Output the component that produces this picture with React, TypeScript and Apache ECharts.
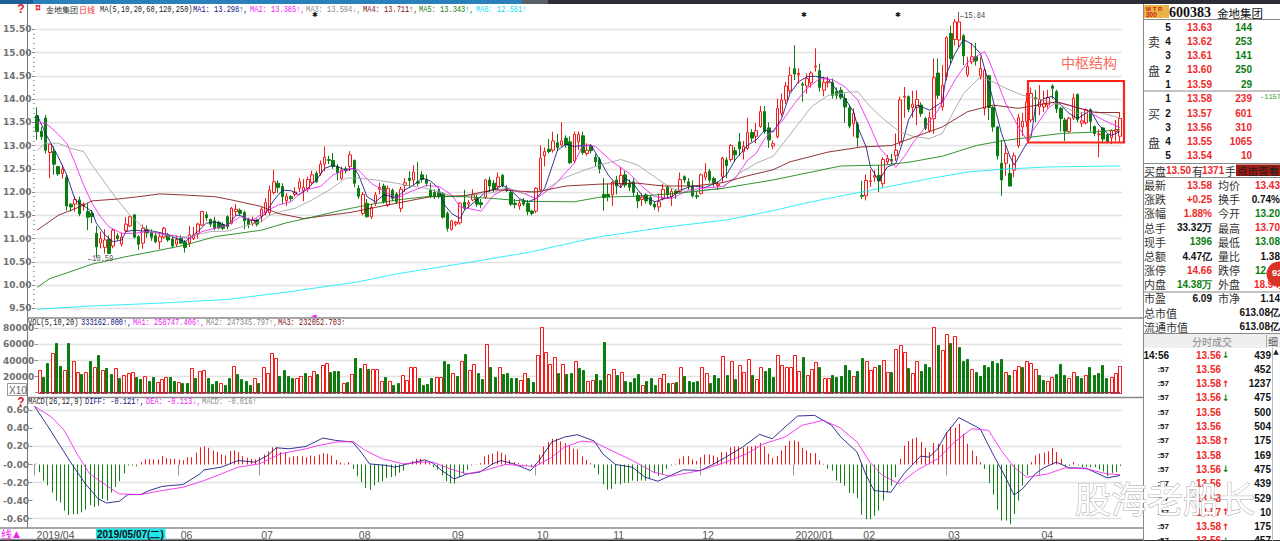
import React, { useEffect, useRef } from "react";
import * as echarts from "echarts";

const CJK = '"Noto Sans CJK SC"';
const NUM = '"Liberation Sans"';
const MONO = '"Liberation Mono"';
const RED = "#f02828";
const GREEN = "#0a7c10";

// candles: [open, close, low, high]
const candlesA: number[][] = [
  [13.64,13.30,13.12,13.82],[13.31,13.19,13.12,13.40],[13.59,12.90,12.83,13.66],[12.85,13.03,12.30,13.04],[12.87,12.60,12.37,12.98],[12.55,12.39,12.35,12.55],[12.40,12.49,12.29,12.57],[12.31,11.70,11.60,12.37],[11.74,11.68,11.58,11.76],[11.74,11.84,11.58,11.90],
  [11.83,11.53,11.48,11.90],[11.70,11.74,11.60,11.78],[11.58,11.46,11.18,11.76],[11.54,11.47,11.33,11.61],[11.11,10.82,10.59,11.27],[10.90,11.00,10.79,11.15],[10.81,10.97,10.68,11.20],[10.98,10.68,10.67,11.07],[10.84,11.18,10.79,11.22],[11.06,11.00,10.96,11.12],
  [10.88,11.03,10.83,11.13],[11.17,11.31,11.14,11.46],[11.27,11.47,11.25,11.49],[11.51,11.03,11.00,11.51],[11.04,10.88,10.76,11.08],[10.90,11.22,10.78,11.30],[11.20,11.12,11.02,11.28],[11.13,11.03,10.95,11.20],[11.06,10.93,10.90,11.12],[10.93,11.04,10.77,11.14],
  [11.03,11.22,11.00,11.25],[11.08,10.97,10.93,11.12],[10.99,10.84,10.79,11.08],[10.88,10.98,10.82,11.07],[11.00,10.90,10.88,11.07],[10.92,10.81,10.70,10.97],[10.90,11.08,10.82,11.27],[11.00,11.08,10.97,11.25],[11.11,11.31,11.00,11.34],[11.29,11.58,11.27,11.60],
  [11.51,11.45,11.38,11.58],[11.41,11.31,11.25,11.43],[11.38,11.22,11.18,11.47],[11.35,11.23,11.20,11.38],[11.30,11.22,11.18,11.35],[11.47,11.26,11.20,11.50],[11.33,11.65,11.30,11.68],[11.58,11.63,11.50,11.74],[11.61,11.54,11.50,11.65],[11.56,11.38,11.20,11.60],
  [11.40,11.30,11.22,11.45],[11.33,11.40,11.27,11.47],[11.40,11.31,11.26,11.43],[11.48,11.63,11.35,11.68],[11.55,11.77,11.50,11.87],[11.56,12.04,11.50,12.14],[11.99,12.22,11.95,12.48],[12.19,12.10,11.98,12.25],[12.12,11.90,11.74,12.19],[11.81,11.91,11.70,11.98],
  [11.90,11.86,11.80,11.93],[11.95,12.00,11.90,12.10],[12.08,12.22,12.00,12.30],[12.03,12.10,11.80,12.28],[12.08,12.27,12.00,12.33],[12.21,12.37,12.15,12.46],[12.40,12.22,12.20,12.45],[12.40,12.60,12.35,12.68],[12.60,12.75,12.45,12.98],[12.70,12.68,12.60,12.78],
  [12.68,12.55,12.50,12.84],[12.55,12.42,12.25,12.60],[12.29,12.46,12.26,12.55],[12.50,12.46,12.40,12.55],[12.55,12.80,12.45,12.88],[12.68,12.19,12.10,12.70],[12.08,11.91,11.85,12.15],[11.54,11.95,11.50,12.00],[11.76,11.47,11.45,11.85],[11.47,11.67,11.42,11.75],
  [11.76,11.94,11.70,12.00],[12.06,12.10,11.95,12.20],[12.13,11.79,11.75,12.18],[11.72,12.08,11.68,12.14],[12.04,11.86,11.80,12.08],[11.96,11.79,11.75,12.00],[11.65,12.06,11.57,12.12],
];
const candlesB: number[][] = [
  [12.14,12.20,12.00,12.30],[12.30,12.25,12.10,12.45],[12.26,12.43,12.14,12.58],[12.22,12.19,12.13,12.65],[12.37,12.27,12.20,12.45],[12.27,12.19,12.12,12.37],[12.04,11.91,11.87,12.20],
  [11.99,11.90,11.85,12.06],[11.99,11.90,11.86,12.07],[11.97,11.46,11.43,12.00],[11.54,11.22,11.15,11.58],[11.20,11.38,11.17,11.40],[11.31,11.35,11.26,11.38],[11.34,11.76,11.30,11.78],[11.78,11.65,11.61,12.05],[11.74,11.77,11.65,11.83],[11.83,11.94,11.80,12.06],
  [11.86,11.74,11.68,11.95],[11.77,11.73,11.65,11.85],[11.89,12.26,11.85,12.28],[12.26,12.13,12.00,12.33],[12.19,12.06,12.00,12.26],[12.12,12.32,12.05,12.42],[12.36,12.13,12.10,12.39],[12.10,12.04,12.00,12.15],[11.99,11.74,11.70,12.03],[11.76,11.73,11.65,11.85],
  [11.70,11.76,11.62,11.84],[11.81,11.74,11.70,11.87],[11.76,11.58,11.50,11.83],[11.59,11.54,11.50,11.62],[11.59,12.08,11.55,12.10],[12.05,12.73,12.00,13.00],[12.78,12.87,12.55,12.96],[12.92,12.87,12.83,13.14],[12.90,13.10,12.85,13.30],[13.06,12.96,12.88,13.25],
  [13.01,13.10,12.98,13.50],[13.16,13.01,12.95,13.22],[13.08,12.63,12.60,13.20],[12.67,13.24,12.62,13.30],[13.08,13.24,12.90,13.30],[13.21,12.85,12.80,13.30],[12.83,12.90,12.78,13.05],[12.99,12.89,12.83,13.03],[12.75,12.65,12.55,12.82],[12.70,12.50,12.40,12.75],
  [11.95,11.88,11.60,12.30],[11.95,11.90,11.80,12.18],[11.94,12.21,11.70,12.25],[12.26,12.13,11.95,12.35],[12.17,12.36,12.10,12.54],[12.37,12.15,12.10,12.45],[12.19,12.10,12.02,12.27],[12.22,11.99,11.90,12.30],[11.93,11.81,11.65,12.00],[11.84,11.89,11.70,11.97],
  [11.94,11.81,11.75,11.97],[11.89,11.74,11.70,11.93],[11.74,11.68,11.62,11.80],[11.68,11.79,11.58,11.97],[11.86,12.06,11.82,12.18],[12.10,11.94,11.85,12.13],[11.90,12.01,11.70,12.08],[12.02,11.97,11.85,12.05],[12.01,12.27,11.98,12.42],[12.33,12.26,12.20,12.36],
  [12.22,12.13,12.05,12.30],[12.13,11.92,11.88,12.25],[11.92,11.90,11.85,12.02],[11.97,12.37,11.95,12.40],[12.32,12.42,12.25,12.62],[12.45,12.26,12.20,12.50],[12.29,12.20,12.12,12.33],[12.14,12.17,12.05,12.22],[12.33,12.73,12.20,12.76],[12.69,12.57,12.30,12.75],
  [12.70,13.00,12.65,13.03],[12.89,12.80,12.65,12.97],[13.08,12.93,12.78,13.27],[12.87,12.98,12.70,13.10],[12.94,13.28,12.90,13.60],[13.28,13.16,13.08,13.35],[13.20,13.32,13.05,13.48],[13.41,13.73,13.38,13.85],[13.73,13.30,13.25,13.85],[13.38,13.12,12.95,13.50],
];
const candlesC: number[][] = [
  [12.99,13.04,12.92,13.11],[13.19,13.80,13.15,14.01],[13.69,13.98,13.63,14.12],[13.98,14.28,13.89,14.37],[14.18,14.51,14.12,14.69],[14.65,14.54,14.41,15.16],
  [14.52,14.55,14.33,14.66],[14.32,14.30,13.94,14.37],[14.28,14.44,14.12,14.55],[14.35,14.56,14.25,14.60],[14.69,14.71,14.59,15.09],[14.61,14.25,14.16,14.76],[14.19,14.36,14.06,14.48],[14.35,14.38,14.25,14.48],[14.36,14.08,14.01,14.44],[14.16,14.08,14.00,14.25],
  [14.19,14.03,13.99,14.26],[14.01,13.83,13.49,14.12],[13.81,13.42,13.37,13.87],[13.47,13.69,13.19,13.80],[13.46,13.17,12.97,13.51],[11.93,11.91,11.85,12.24],[11.92,12.25,11.82,12.38],[12.23,12.24,12.11,12.48],[12.32,12.35,12.22,12.47],[12.36,12.24,12.00,12.58],
  [12.18,12.70,12.10,12.75],[12.65,12.72,12.60,12.80],[12.70,12.67,12.60,12.82],[12.79,12.90,12.67,13.26],[13.08,13.98,13.00,14.05],[14.04,14.06,13.60,14.26],[14.05,13.78,13.72,14.08],[13.82,13.89,13.60,14.18],[13.82,13.99,13.44,14.19],[13.87,13.69,13.62,13.93],
  [13.58,13.37,13.33,13.62],[13.32,13.60,13.28,13.73],[13.58,14.46,13.25,14.87],[14.56,14.08,14.00,14.87],[13.83,14.30,13.75,14.73],[14.48,15.32,14.40,15.35],[15.41,14.87,14.75,15.58],[15.28,15.66,15.15,15.72],[15.27,15.66,15.12,15.84],[15.36,14.93,14.73,15.40],
  [14.52,14.70,14.47,14.91],[14.80,14.91,14.75,15.20],[14.91,14.82,14.72,15.21],[14.50,14.66,14.42,14.90],[13.80,14.62,13.65,14.66],[14.50,13.82,13.55,14.52],[13.82,13.40,13.30,13.85],[13.40,12.78,12.70,13.42],[12.62,12.26,11.92,13.12],[12.62,12.83,12.35,13.00],
  [12.40,12.13,12.12,12.60],[12.47,12.78,12.32,12.85],[13.00,13.60,12.95,13.68],[13.40,13.52,13.20,13.70],[13.51,13.94,13.40,14.13],[13.55,14.12,13.50,14.25],[14.03,14.00,13.50,14.20],[13.83,13.99,13.65,14.30],[13.83,13.91,13.72,14.18],[13.87,14.03,13.80,14.20],
  [14.28,14.23,14.00,14.32],[14.16,13.79,13.70,14.20],[13.80,13.58,13.30,13.83],[13.55,13.31,13.10,13.60],[13.30,13.59,13.28,13.62],[13.59,14.02,13.55,14.12],[14.10,13.56,13.50,14.12],[13.48,13.53,13.40,13.72],[13.49,13.77,13.45,13.80],[13.77,13.52,13.30,13.80],
  [13.41,13.26,13.20,13.43],[13.23,13.25,12.75,13.35],[13.38,13.14,13.08,13.40],[13.23,13.08,13.05,13.25],[13.17,13.32,13.03,13.35],[13.30,13.34,13.10,13.55],[13.20,13.58,13.08,13.70],
];

// volume in thousands of shares: positive = red (hollow) bar, negative = green bar
const volumes = [
  283,-200,-367,492,-617,-333,283,-617,388,254,
  -233,254,-388,325,-467,283,-304,-229,304,-179,
  221,242,254,-200,-171,208,-146,-200,138,167,
  200,-200,-150,129,-125,-121,304,-187,271,283,
  -179,-108,-146,125,-96,-187,333,-229,-167,-150,
  -96,187,-117,317,242,492,429,-212,-283,-212,
  -187,179,212,-242,212,275,-229,346,367,-262,
  -271,-271,125,-138,229,-429,-304,358,-296,296,
  292,146,-200,150,-96,-125,221,158,317,317,
  -187,-92,-108,-179,192,192,-396,-358,250,-208,
  396,-483,283,358,-250,-171,608,-325,-200,317,
  -233,-250,-183,-179,158,242,-179,-138,467,817,
  508,354,442,-250,358,-229,-250,388,-304,-283,
  150,158,-233,-158,-629,229,292,-221,254,-150,
  -138,-179,-233,96,-146,-187,-92,179,229,-117,
  125,-138,317,-208,-150,-129,-150,317,242,-125,
  -221,-183,450,-221,392,-175,338,262,417,-221,
  167,325,-275,-304,-200,467,342,317,325,467,
  275,-446,221,292,379,-325,179,179,-225,-200,
  -208,-346,-283,208,-271,-429,388,283,325,-346,
  408,262,-254,546,596,504,-304,242,400,-271,
  -354,-325,817,-588,533,733,-617,708,-567,-400,
  -417,292,-258,-212,-346,-317,-400,-375,-417,262,
  -221,283,337,-325,388,375,292,-221,-158,150,
  200,-233,-358,-221,179,254,-212,-187,221,-321,
  -221,-242,-346,-183,192,242,333,
];

const macdHist = [
  0.01,-0.085,-0.18,-0.23,-0.31,-0.40,-0.42,-0.51,-0.56,-0.55,
  -0.55,-0.53,-0.50,-0.45,-0.47,-0.455,-0.38,-0.40,-0.31,-0.25,
  -0.185,-0.096,-0.011,-0.011,-0.02,0.026,0.056,0.06,0.056,0.056,
  0.093,0.07,0.063,0.063,0.056,0.048,0.08,0.08,0.13,0.19,
  0.20,0.185,0.155,0.14,0.11,0.10,0.15,0.155,0.137,0.093,
  0.074,0.063,0.056,0.08,0.11,0.145,0.19,0.19,0.137,0.13,
  0.08,0.093,0.093,0.09,0.08,0.10,0.09,0.11,0.126,0.12,
  0.10,0.05,0.02,0.01,0.025,-0.05,-0.13,-0.196,-0.26,-0.28,
  -0.23,-0.196,-0.185,-0.15,-0.14,-0.126,-0.09,-0.067,0.003,0.037,
  0.063,0.063,0.044,0.02,-0.03,-0.055,-0.12,-0.185,-0.21,-0.21,
  -0.14,-0.10,-0.06,-0.01,0.005,0.015,0.09,0.11,0.12,0.145,
  0.13,0.107,0.05,0.026,0.015,0.007,-0.015,-0.03,0.007,0.11,
  0.20,0.25,0.285,0.285,0.255,0.237,0.21,0.174,0.17,0.09,
  0.05,0.015,-0.037,-0.11,-0.22,-0.278,-0.27,-0.215,-0.222,-0.204,
  -0.204,-0.178,-0.185,-0.178,-0.178,-0.16,-0.096,-0.126,-0.104,-0.048,
  -0.011,0.007,0.063,0.09,0.093,0.055,0.037,0.08,0.11,0.11,
  0.10,0.08,0.137,0.137,0.19,0.20,0.20,0.185,0.20,0.20,
  0.21,0.237,0.20,0.12,0.07,0.093,0.155,0.21,0.26,0.267,
  0.255,0.185,0.155,0.126,0.126,0.044,0.007,-0.048,-0.067,-0.178,
  -0.204,-0.233,-0.315,-0.32,-0.374,-0.556,-0.607,-0.607,-0.567,-0.51,
  -0.40,-0.307,-0.233,-0.14,0.063,0.21,0.26,0.285,0.30,0.25,
  0.185,0.137,0.237,0.23,0.22,0.36,0.415,0.407,0.45,0.34,
  0.23,0.155,0.093,0.026,-0.048,-0.207,-0.333,-0.50,-0.62,-0.62,
  -0.66,-0.548,-0.40,-0.233,-0.12,0.026,0.10,0.12,0.13,0.145,
  0.18,0.137,0.063,-0.018,-0.011,0.026,-0.011,-0.03,-0.022,-0.03,
  -0.03,-0.055,-0.078,-0.13,-0.093,-0.085,-0.016,
];

// moving averages: [bar index, value], read at the turning points of each line
const ma1 = [[0,13.66],[2,13.26],[5,12.76],[7,12.37],[9,11.83],[13,11.58],[14,11.33],[16,11.08],[18,10.93],[20,10.97],[21,11.15],[23,11.18],[25,11.16],[26,11.18],[29,11.13],[31,11.08],[33,11.0],[35,10.93],[37,11.08],[38,11.15],[40,11.33],[42,11.36],[45,11.27],[47,11.5],[48,11.5],[50,11.4],[52,11.38],[54,11.54],[56,11.83],[58,12.04],[60,12.03],[62,11.94],[64,12.08],[66,12.26],[68,12.51],[70,12.58],[73,12.47],[75,12.51],[76,12.37],[78,11.9],[80,11.79],[82,11.94],[85,11.88],[87,12.05],[89,12.15],[91,12.3],[93,12.24],[95,12.08],[96,11.76],[98,11.54],[100,11.43],[101,11.61],[104,11.83],[106,12.0],[109,12.08],[110,12.15],[112,12.04],[114,11.86],[116,11.79],[118,11.86],[120,12.08],[122,12.62],[123,12.9],[125,13.03],[127,12.98],[129,13.0],[131,13.01],[133,12.69],[135,12.37],[136,12.26],[138,12.09],[139,12.3],[141,12.17],[143,11.93],[146,11.79],[148,11.85],[150,11.9],[152,12.04],[155,12.13],[158,12.1],[161,12.22],[163,12.37],[165,12.69],[168,13.01],[170,13.12],[172,13.33],[174,13.29],[176,13.58],[178,14.12],[180,14.37],[182,14.48],[184,14.49],[187,14.44],[189,14.19],[191,14.01],[193,13.73],[194,13.4],[196,12.97],[197,12.54],[199,12.24],[201,12.54],[203,12.61],[205,13.19],[206,13.55],[208,13.87],[210,13.8],[211,13.76],[214,13.94],[215,14.55],[217,14.98],[219,15.28],[221,15.18],[223,14.98],[225,14.33],[228,13.26],[230,12.76],[231,12.58],[233,12.9],[235,13.19],[236,13.83],[238,14.01],[240,14.06],[242,13.87],[244,13.69],[246,13.58],[249,13.76],[251,13.44],[253,13.26],[254,13.22],[256,13.3]];
const ma2 = [[0,13.48],[2,13.48],[4,13.33],[7,13.05],[9,12.62],[11,12.15],[13,11.76],[15,11.47],[17,11.25],[20,11.11],[23,11.11],[26,11.15],[29,11.11],[33,11.05],[36,11.0],[39,11.15],[42,11.22],[45,11.29],[48,11.47],[51,11.4],[54,11.58],[57,11.72],[60,11.79],[63,12.04],[67,12.12],[70,12.37],[74,12.51],[76,12.47],[79,12.19],[81,12.08],[85,11.86],[88,12.0],[92,12.14],[95,12.12],[98,11.94],[100,11.68],[105,11.59],[108,11.94],[111,12.08],[115,11.97],[118,11.86],[122,12.12],[127,12.62],[129,13.01],[132,12.98],[136,12.65],[140,12.4],[143,12.12],[146,11.9],[150,11.86],[154,12.04],[157,12.08],[162,12.12],[165,12.29],[168,12.69],[170,12.83],[172,13.15],[174,13.33],[176,13.51],[179,13.9],[182,14.23],[185,14.44],[188,14.42],[191,14.26],[194,13.98],[197,13.4],[199,12.97],[202,12.65],[203,12.53],[205,12.76],[207,13.05],[210,13.4],[213,13.76],[217,14.41],[220,14.8],[224,15.02],[225,14.84],[229,13.9],[232,13.4],[234,13.12],[236,13.4],[239,13.8],[241,13.94],[244,13.87],[248,13.76],[252,13.55],[256,13.385]];
const ma3 = [[0,12.9],[2,13.05],[5,13.05],[8,12.94],[11,12.87],[13,12.58],[17,12.08],[19,11.83],[22,11.5],[25,11.25],[29,11.08],[33,11.03],[36,11.04],[41,11.15],[45,11.16],[49,11.27],[53,11.36],[55,11.5],[58,11.59],[61,11.65],[65,11.83],[69,12.04],[73,12.3],[76,12.3],[80,12.26],[85,12.19],[87,12.15],[92,12.08],[96,11.97],[99,11.9],[103,11.94],[108,11.99],[111,12.1],[115,11.97],[120,12.04],[124,12.28],[129,12.46],[133,12.58],[138,12.7],[142,12.58],[147,12.26],[150,12.08],[154,12.0],[158,12.04],[162,12.08],[166,12.4],[170,12.62],[174,12.77],[177,13.12],[180,13.47],[183,13.83],[187,14.08],[191,14.14],[194,14.16],[197,13.83],[200,13.58],[204,13.29],[207,13.2],[211,13.15],[214,13.26],[216,13.62],[219,14.12],[223,14.48],[226,14.37],[229,14.23],[233,14.08],[238,13.98],[242,13.87],[246,13.69],[250,13.74],[256,13.594]];
const ma4 = [[0,11.18],[5,11.5],[10,11.68],[13,11.81],[19,11.85],[24,11.9],[29,11.96],[34,11.94],[42,11.9],[46,11.83],[53,11.69],[57,11.54],[63,11.43],[68,11.49],[74,11.56],[80,11.67],[85,11.76],[93,11.9],[101,11.92],[108,12.05],[118,12.0],[125,12.13],[133,12.17],[142,12.19],[148,12.13],[155,12.13],[162,12.2],[168,12.35],[174,12.48],[178,12.65],[187,12.86],[195,12.97],[202,13.0],[207,13.17],[214,13.4],[220,13.73],[226,13.87],[232,13.8],[241,13.94],[250,13.71],[256,13.711]];
const ma5 = [[0,9.95],[3,10.14],[7,10.26],[13,10.45],[21,10.61],[29,10.75],[35,10.86],[42,11.04],[53,11.18],[59,11.34],[65,11.46],[72,11.61],[78,11.72],[85,11.83],[93,11.91],[101,11.9],[108,11.86],[116,11.8],[127,11.79],[133,11.89],[142,11.91],[151,11.97],[162,12.08],[168,12.17],[174,12.26],[183,12.43],[190,12.56],[200,12.58],[206,12.64],[214,12.77],[222,13.0],[228,13.1],[234,13.17],[242,13.26],[250,13.29],[256,13.343]];
const ma6 = [[0,9.48],[13,9.55],[29,9.61],[45,9.69],[60,9.86],[76,10.07],[85,10.24],[101,10.47],[116,10.7],[133,11.04],[149,11.25],[163,11.4],[174,11.6],[183,11.79],[197,12.04],[211,12.29],[220,12.43],[228,12.49],[239,12.54],[256,12.561]];

const volMa1 = [[0,450],[3,388],[7,471],[11,346],[15,346],[19,283],[23,242],[27,179],[31,179],[35,158],[39,221],[43,138],[48,179],[53,158],[56,325],[59,346],[63,221],[67,262],[71,262],[75,221],[79,333],[83,221],[87,158],[90,242],[94,179],[100,283],[105,304],[110,325],[115,262],[118,242],[120,408],[122,508],[125,346],[129,304],[133,221],[137,221],[143,179],[149,179],[155,179],[162,221],[166,262],[171,242],[176,304],[180,346],[185,325],[190,221],[195,317],[200,346],[203,317],[206,442],[210,317],[213,429],[216,638],[219,596],[222,429],[226,283],[230,346],[233,304],[237,325],[241,200],[245,242],[250,242],[256,259]];
const volMa2 = [[0,450],[6,429],[13,346],[19,304],[24,242],[30,179],[35,179],[42,179],[48,179],[53,167],[58,242],[64,271],[71,283],[76,242],[82,262],[87,221],[94,200],[102,325],[110,325],[118,200],[127,400],[133,242],[141,221],[149,158],[157,188],[165,242],[176,317],[183,346],[190,304],[198,325],[206,388],[213,450],[221,575],[225,429],[230,346],[237,304],[244,262],[256,247]];
const volMa3 = [[0,492],[6,429],[13,388],[20,325],[27,254],[34,212],[40,171],[46,179],[53,179],[60,221],[71,262],[82,271],[94,229],[106,275],[118,283],[127,304],[135,317],[141,254],[149,200],[157,179],[165,221],[176,292],[184,317],[190,292],[202,325],[211,388],[218,471],[223,450],[231,438],[237,346],[244,283],[256,232]];

const macdDiff = [[0,0.644],[3,0.433],[6,0.21],[9,-0.011],[12,-0.215],[15,-0.38],[17,-0.426],[20,-0.407],[22,-0.333],[25,-0.333],[27,-0.289],[30,-0.244],[32,-0.233],[35,-0.222],[39,-0.104],[40,-0.059],[44,-0.03],[48,0.044],[52,0.026],[55,0.10],[57,0.185],[60,0.174],[64,0.20],[68,0.293],[71,0.267],[75,0.248],[77,0.137],[79,0.007],[83,-0.011],[85,-0.03],[88,0.007],[92,0.052],[94,0.015],[96,-0.067],[99,-0.159],[102,-0.104],[105,-0.085],[108,0.007],[110,0.044],[113,0.007],[117,-0.067],[119,0.044],[122,0.248],[125,0.304],[128,0.33],[132,0.26],[134,0.119],[137,0.0],[141,-0.03],[144,-0.141],[147,-0.185],[150,-0.122],[153,-0.059],[157,-0.067],[160,0.0],[163,0.081],[167,0.193],[171,0.333],[174,0.285],[177,0.415],[180,0.537],[184,0.544],[188,0.433],[190,0.311],[194,0.137],[196,-0.104],[198,-0.289],[202,-0.307],[205,-0.104],[209,0.093],[211,0.081],[213,0.174],[215,0.341],[218,0.519],[223,0.396],[226,0.119],[229,-0.141],[231,-0.337],[233,-0.27],[236,-0.104],[238,-0.037],[241,0.026],[244,-0.037],[248,-0.041],[253,-0.148],[256,-0.121]];
const macdDea = [[0,0.644],[4,0.526],[7,0.378],[10,0.119],[13,-0.104],[17,-0.233],[20,-0.326],[25,-0.333],[30,-0.289],[35,-0.252],[40,-0.178],[44,-0.104],[48,-0.03],[53,0.007],[58,0.119],[64,0.174],[67,0.211],[71,0.248],[75,0.256],[78,0.156],[82,0.063],[87,0.007],[91,0.026],[94,0.026],[98,-0.048],[102,-0.104],[106,-0.067],[111,0.0],[118,-0.022],[122,0.081],[125,0.193],[129,0.259],[132,0.248],[136,0.156],[141,0.044],[146,-0.085],[150,-0.13],[157,-0.067],[163,0.026],[168,0.119],[172,0.23],[177,0.304],[181,0.433],[186,0.489],[190,0.407],[194,0.248],[197,0.026],[200,-0.122],[204,-0.215],[208,-0.067],[213,0.063],[217,0.248],[221,0.396],[225,0.378],[228,0.156],[231,-0.03],[234,-0.141],[239,-0.104],[243,-0.037],[248,-0.048],[253,-0.104],[256,-0.113]];

const monthTicks: [number, string][] = [[0,"2019/04"],[14,"05"],[34,"06"],[53,"07"],[76,"08"],[98,"09"],[118,"10"],[136,"11"],[157,"12"],[179,"2020/01"],[195,"02"],[215,"03"],[237,"04"]];

const sellBook: [string, string, string][] = [["5","13.63","144"],["4","13.62","253"],["3","13.61","141"],["2","13.60","250"],["1","13.59","29"]];
const buyBook: [string, string, string][] = [["1","13.58","239"],["2","13.57","601"],["3","13.56","310"],["4","13.55","1065"],["5","13.54","10"]];
const quoteRows: [string, string, string, string, string, string][] = [
  ["最新","13.58",RED,"均价","13.43",RED],
  ["涨跌","+0.25",RED,"换手","0.74%","#111"],
  ["涨幅","1.88%",RED,"今开","13.20",GREEN],
  ["总手","33.32万","#111","最高","13.70",RED],
  ["现手","1396",GREEN,"最低","13.08",GREEN],
  ["总额","4.47亿","#111","量比","1.38","#111"],
  ["涨停","14.66",RED,"跌停","12.00",GREEN],
  ["内盘","14.38万",GREEN,"外盘","18.94万",RED],
  ["市盈","6.09","#111","市净","1.14","#111"],
];
const tapeRows: [string, string, string, string][] = [
  ["14:56","13.56","↓","439"],[":57","13.56","","452"],[":57","13.58","↑","1237"],[":57","13.56","↓","475"],[":57","13.56","","500"],[":57","13.56","","504"],[":57","13.58","↑","175"],
  [":57","13.58","","169"],[":57","13.56","↓","475"],[":57","13.56","","439"],[":57","13.58","","529"],[":57","13.57","↑","10"],[":57","13.58","↑","175"],[":57","13.56","↓","457"],
];

function t(text: string, x: number, y: number, color: string, font: string, align = "left", scaleX = 1, z = 100): any {
  return { type: "text", x, y, scaleX, z, silent: true, style: { text, fill: color, font, align, verticalAlign: "middle" } };
}
function hl(x1: number, y1: number, x2: number, y2: number, color: string, w = 1, z = 90): any {
  return { type: "line", z, silent: true, shape: { x1, y1, x2, y2 }, style: { stroke: color, lineWidth: w } };
}
function box(x: number, y: number, width: number, height: number, fill: string, z = 80): any {
  return { type: "rect", z, silent: true, shape: { x, y, width, height }, style: { fill } };
}

function buildGraphics(): any[] {
  const g: any[] = [];
  const mono = `9px ${MONO}`;
  const sx = 0.78;
  g.push(box(0, 0, 33, 4, "#1e5f96"), box(33, 0, 489, 4, "#2a80bb"), box(522, 0, 26, 4, "#5a5f68"), box(548, 0, 732, 4, "#2c2d36"));
  g.push(hl(27.5, 4, 27.5, 528, "#777"), hl(27, 318, 1143, 318, "#888", 1.3), hl(27, 397.5, 1143, 397.5, "#888", 1.3), hl(0, 528, 1143, 528, "#888", 1.3), hl(0, 539.5, 1143, 539.5, "#888", 1.3), hl(0, 540.5, 1280, 540.5, "#333", 1));
  g.push(t("?", 21, 9, "#d81818", `bold 12px ${NUM}`, "center"), t("¤", 38, 7, RED, `bold 10px ${NUM}`, "center"));
  g.push(t("金地集团", 46, 9, "#333", `8px ${CJK}`), t("日线", 79, 9, RED, `8px ${CJK}`));
  g.push(t("MA(5,10,20,60,120,250)", 100, 9, "#222", mono, "left", sx));
  const maHead: [string, number, string][] = [["MA1: 13.298↑,", 193, "#101080"], ["MA2: 13.385↑,", 250, "#f020f0"], ["MA3: 13.594↓,", 306, "#888"], ["MA4: 13.711↑,", 363, "#801010"], ["MA5: 13.343↑,", 419, "#108010"], ["MA6: 12.561↑", 476, "#10e0f0"]];
  maHead.forEach(([s, x, c]) => g.push(t(s, x, 9, c, mono, "left", sx)));
  [315, 804, 898].forEach((x) => g.push(t("✱", x, 14.5, "#111", `bold 7px "DejaVu Sans"`, "center")));
  g.push(hl(958.5, 12, 958.5, 18, "#666"), t("←15.84", 960, 15, "#444", mono, "left", sx));
  g.push(t("←10.59", 88, 258, "#555", mono, "left", sx), t("◄", 314, 315.5, "#f020f0", `7px "DejaVu Sans"`, "center"));
  g.push({ type: "rect", z: 95, silent: true, shape: { x: 1028, y: 81, width: 96, height: 61.5 }, style: { fill: "none", stroke: "#ff2418", lineWidth: 2.2 } });
  g.push(t("中枢结构", 1061, 61.5, "#fb6a5c", `14px ${CJK}`));
  g.push(t("VOL(5,10,20)", 28, 322.5, "#222", mono, "left", sx));
  g.push(t("333162.000↑,", 81, 322.5, "#101080", mono, "left", sx), t("MA1: 258747.406↑,", 133, 322.5, "#f020f0", mono, "left", sx), t("MA2: 247345.797↑,", 206, 322.5, "#888", mono, "left", sx), t("MA3: 232052.703↑", 278, 322.5, "#801010", mono, "left", sx));
  g.push({ type: "rect", z: 95, silent: true, shape: { x: 7.5, y: 383.5, width: 19, height: 12 }, style: { fill: "#fff", stroke: "#999", lineWidth: 1 } });
  g.push(t("X10", 9, 390, "#666", `10px ${NUM}`));
  g.push(t("?", 21, 402, "#d81818", `bold 12px ${NUM}`, "center"));
  g.push(t("MACD(26,12,9)", 28, 401.5, "#222", mono, "left", sx), t("DIFF: -0.121↑,", 85, 401.5, "#101080", mono, "left", sx), t("DEA: -0.113↓,", 146, 401.5, "#f020f0", mono, "left", sx), t("MACD: -0.016↑", 202, 401.5, "#888", mono, "left", sx));
  g.push(t("线", 1, 534, "#f020f0", `11px ${CJK}`), t("▲", 13, 534, "#f020f0", `9px "DejaVu Sans"`));
  g.push(box(96, 528.5, 69.5, 11, "#1ee6ea", 92), t("2019/05/07(二)", 97, 534.5, "#111", `bold 10px ${NUM}`));

  g.push(box(1143, 4, 137, 537, "#fff", 60), hl(1143.5, 4, 1143.5, 541, "#888"));
  g.push(box(1144, 5, 25, 13, "#e8b44a", 70), t("M T R", 1146, 8.5, "#d02010", `bold 6px ${NUM}`), t("300", 1146, 14.5, "#d02010", `bold 6.5px ${NUM}`));
  g.push(t("600383", 1169, 12, "#111", `bold 14px "Liberation Serif"`), t("金地集团", 1217, 12.5, "#111", `11.5px ${CJK}`));
  [19.5, 91, 163.5, 177.5, 292, 333.5].forEach((y) => g.push(hl(1143, y, 1280, y, "#888")));
  g.push(t("卖", 1154, 41, "#333", `12px ${CJK}`, "center"), t("盘", 1154, 70, "#333", `12px ${CJK}`, "center"), t("买", 1154, 113, "#333", `12px ${CJK}`, "center"), t("盘", 1154, 142, "#333", `12px ${CJK}`, "center"));
  const num = `bold 10px ${NUM}`;
  sellBook.forEach(([l, p, v], i) => {
    const y = 27.3 + i * 14.2;
    g.push(t(l, 1168, y, "#111", num, "center"), t(p, 1212, y, RED, num, "right"), t(v, 1252, y, GREEN, num, "right"));
  });
  buyBook.forEach(([l, p, v], i) => {
    const y = 98.7 + i * 14.3;
    g.push(t(l, 1168, y, "#111", num, "center"), t(p, 1212, y, RED, num, "right"), t(v, 1252, y, RED, num, "right"));
  });
  g.push(t("-1157", 1260, 97, "#2a9a2a", `7px ${MONO}`));
  g.push(t("买盘", 1144, 170.5, "#333", `11px ${CJK}`), t("13.50", 1166, 170.5, RED, num), t("有", 1192, 170.5, "#333", `11px ${CJK}`), t("1371", 1202, 170.5, RED, num), t("手", 1225, 170.5, "#333", `11px ${CJK}`));
  g.push(box(1236, 164.5, 44, 11.5, "#a01812", 70), t("点击查看", 1237, 170.5, "#222", `10.5px ${CJK}`));
  quoteRows.forEach(([a, b, c, d, e, f], i) => {
    const y = i < 8 ? 185 + i * 14.2 : 298.3;
    g.push(t(a, 1144, y, "#333", `11px ${CJK}`), t(b, 1212, y, c, num, "right"), t(d, 1218, y, "#333", `11px ${CJK}`), t(e, i === 7 ? 1289 : 1280, y, f, num, "right"));
  });
  g.push(t("总市值", 1144, 312.7, "#333", `11px ${CJK}`), t("613.08亿", 1280, 312.7, "#111", num, "right"), t("流通市值", 1144, 326.7, "#333", `11px ${CJK}`), t("613.08亿", 1280, 326.7, "#111", num, "right"));
  g.push({ type: "circle", z: 105, silent: true, shape: { cx: 1279, cy: 274, r: 12.5 }, style: { fill: "#d93226" } }, t("92", 1272, 273, "#fff", `bold 9px ${NUM}`, "left", 1, 106));
  g.push(box(1144, 334, 136, 14, "#efefef", 70), t("分时成交", 1212, 341, "#888", `10px ${CJK}`, "center"));
  g.push(hl(1266.5, 335, 1266.5, 347, "#aaa"), t("细", 1273, 341, "#555", `10px ${CJK}`, "center"));
  g.push(hl(1272.5, 348, 1272.5, 541, "#bbb"), t("▲", 1276, 352, "#222", `7px "DejaVu Sans"`, "center"));
  tapeRows.forEach(([a, p, ar, v], i) => {
    const y = 355 + i * 14.3;
    g.push(t(a, 1169, y, "#111", i === 0 ? num : `bold 8px ${NUM}`, "right"), t(p, 1196, y, RED, num), t(v, 1271, y, "#111", num, "right"));
    if (ar) g.push(t(ar, 1222, y, ar === "↑" ? "#f01010" : GREEN, `bold 9px "DejaVu Sans"`));
  });
  g.push({ type: "text", z: 120, silent: true, x: 1075, y: 497, style: { text: "股海老船长", fill: "#fff", stroke: "#a8a8a8", lineWidth: 1, font: `36px ${CJK}`, verticalAlign: "middle" } });
  return g;
}

function lineSeries(data: number[][], color: string, axis: number): any {
  return { type: "line", data, xAxisIndex: axis, yAxisIndex: axis, showSymbol: false, symbol: "none", clip: false, silent: true, lineStyle: { color, width: 0.85 }, z: 5 };
}

// pixel-snapped hollow / solid volume bar
function renderVol(_: any, api: any) {
  const i = api.value(0);
  const v = api.value(1);
  const red = api.value(2) > 0;
  const top = api.coord([i, v]);
  const base = api.coord([i, 0]);
  const x = Math.round(top[0]) - 1.5;
  const y = Math.round(top[1]) + 0.5;
  return {
    type: "rect",
    shape: { x, y, width: red ? 3 : 2, height: Math.round(base[1]) + 0.5 - y },
    style: red ? { fill: "#fff", stroke: "#f81818", lineWidth: 1 } : { fill: GREEN, stroke: GREEN, lineWidth: 1 },
  };
}
// pixel-snapped MACD stick
function renderHist(_: any, api: any) {
  const i = api.value(0);
  const v = api.value(1);
  const tip = api.coord([i, v]);
  const base = api.coord([i, 0]);
  const x = Math.round(tip[0]) + 0.5;
  return {
    type: "line",
    shape: { x1: x, y1: base[1], x2: x, y2: tip[1] },
    style: { stroke: v >= 0 ? "#f01818" : "#108010", lineWidth: 1 },
  };
}

export default function App() {
  const ref = useRef<HTMLDivElement>(null);
  useEffect(() => {
    const chart = echarts.init(ref.current!, undefined, { renderer: "svg" });
    const candles = [...candlesA, ...candlesB, ...candlesC];
    const categories = candles.map((_, i) => {
      const m = monthTicks.find((k) => k[0] === i);
      return m ? m[1] : "";
    });
    const yLabel = { color: "#707070", fontFamily: "DejaVu Sans", fontWeight: "bold", fontSize: 9, margin: 3.5 };
    const xBase = (idx: number, extra: any = {}) => ({
      type: "category", gridIndex: idx, data: categories, boundaryGap: true,
      axisLine: { show: false }, axisTick: { show: false }, axisLabel: { show: false }, splitLine: { show: false }, ...extra,
    });
    const yBase = (idx: number, extra: any = {}) => ({
      type: "value", gridIndex: idx, axisLine: { show: false },
      axisTick: { show: true, length: 3, lineStyle: { color: "#888" } },
      splitLine: { show: true, lineStyle: { color: "#e2e2e2", width: 1.3 } },
      ...extra,
    });
    const left = 27.2, width = 1094.9;
    chart.setOption({
      animation: false,
      backgroundColor: "#fff",
      grid: [
        { left, width, top: 29.3, height: 279 },
        { left, width, top: 328.3, height: 64.4 },
        { left, width, top: 410.3, height: 108.4 },
      ],
      xAxis: [
        xBase(0),
        xBase(1),
        xBase(2, {
          position: "bottom", offset: 9.5,
          axisTick: { show: true, length: 11, alignWithLabel: true, interval: (_: number, v: string) => v !== "", lineStyle: { color: "#999" } },
          axisLabel: { show: true, interval: (_: number, v: string) => v !== "", align: "left", verticalAlign: "top", margin: 1, padding: [0, 0, 0, 2], color: "#555", fontFamily: "Liberation Sans", fontSize: 10.5, hideOverlap: false },
        }),
      ],
      yAxis: [
        yBase(0, { min: 9.5, max: 15.5, interval: 0.5, minorTick: { show: true, splitNumber: 5, length: 2, lineStyle: { color: "#aaa" } }, axisLabel: { ...yLabel, formatter: (v: number) => v.toFixed(2) } }),
        yBase(1, { min: 0, max: 800000, interval: 200000, axisLabel: { ...yLabel, formatter: (v: number) => (v === 0 ? "" : String(v / 10)) } }),
        yBase(2, { min: -0.6, max: 0.6, interval: 0.2, splitLine: { show: true, lineStyle: { color: ["#e2e2e2", "transparent"], width: 1.3 } }, axisLabel: { ...yLabel, formatter: (v: number) => (Math.abs(v) < 1e-6 ? "-0.00" : v.toFixed(2)) } }),
      ],
      series: [
        {
          type: "candlestick", data: candles, xAxisIndex: 0, yAxisIndex: 0, barWidth: 3, clip: false, silent: true, z: 3,
          itemStyle: { color: "#fff", color0: GREEN, borderColor: "#f81818", borderColor0: GREEN, borderWidth: 1 },
        },
        lineSeries(ma1, "#101080", 0), lineSeries(ma2, "#f020f0", 0), lineSeries(ma3, "#a0a0a0", 0),
        lineSeries(ma4, "#801010", 0), lineSeries(ma5, "#108010", 0), lineSeries(ma6, "#10eaf5", 0),
        {
          type: "custom", xAxisIndex: 1, yAxisIndex: 1, clip: false, silent: true, z: 3, renderItem: renderVol,
          encode: { x: 0, y: 1 },
          data: volumes.map((v, i) => [i, Math.abs(v) * 1000, v > 0 ? 1 : 0]),
        },
        lineSeries(volMa1, "#f020f0", 1), lineSeries(volMa2, "#a0a0a0", 1), lineSeries(volMa3, "#801010", 1),
        {
          type: "custom", xAxisIndex: 2, yAxisIndex: 2, clip: false, silent: true, z: 3, renderItem: renderHist,
          encode: { x: 0, y: 1 },
          data: macdHist.map((v, i) => [i, v]),
        },
        lineSeries(macdDiff, "#101080", 2), lineSeries(macdDea, "#f020f0", 2),
      ],
      graphic: { elements: buildGraphics() },
    });
    return () => chart.dispose();
  }, []);
  return <div ref={ref} style={{ position: "fixed", left: 0, top: 0, width: 1280, height: 541, overflow: "hidden" }} />;
}
